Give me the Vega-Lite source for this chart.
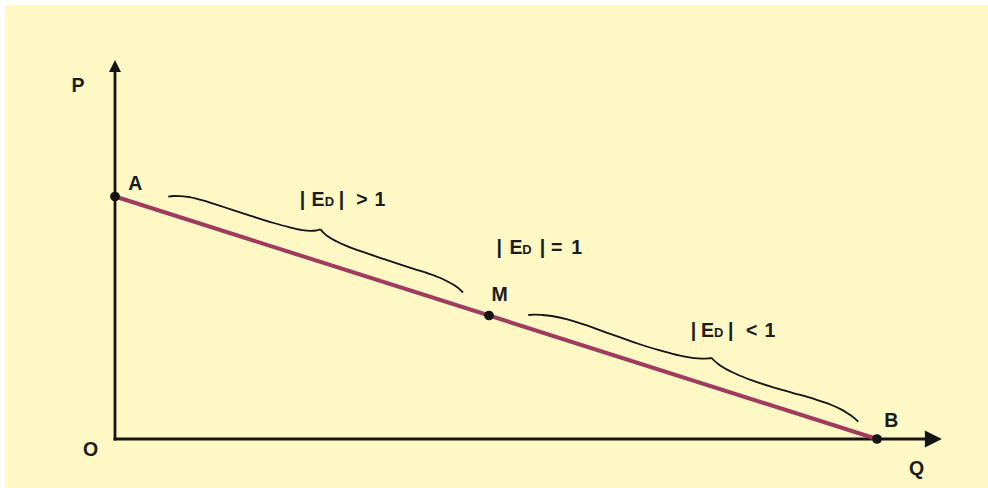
{
  "$schema": "https://vega.github.io/schema/vega-lite/v6.json",
  "width": 988,
  "height": 488,
  "autosize": {"type": "fit", "contains": "padding"},
  "padding": {"top": 5, "left": 5, "right": 0, "bottom": 0},
  "background": "#ffffff",
  "config": {
    "view": {"stroke": null, "fill": "#fdf8c4"},
    "axis": {"disable": true}
  },
  "datasets": {
    "axes": [
      {"axis": "P", "Q": 0, "P": 0},
      {"axis": "P", "Q": 0, "P": 37.1},
      {"axis": "Q", "Q": 0, "P": 0},
      {"axis": "Q", "Q": 81.5, "P": 0}
    ],
    "arrows": [
      {"axis": "P", "Q": 0, "P": 37.29},
      {"axis": "Q", "Q": 81.84, "P": 0}
    ],
    "demand": [
      {"Q": 0, "P": 24.25},
      {"Q": 76.2, "P": 0}
    ],
    "points": [
      {"name": "A", "Q": 0, "P": 24.25},
      {"name": "M", "Q": 37.4, "P": 12.35},
      {"name": "B", "Q": 76.2, "P": 0}
    ],
    "braces": [
      {"seg": "b1a", "Q": 5.33, "P": 24.23},
      {"seg": "b1a", "Q": 5.84, "P": 24.30},
      {"seg": "b1a", "Q": 6.49, "P": 24.29},
      {"seg": "b1a", "Q": 7.28, "P": 24.21},
      {"seg": "b1a", "Q": 8.49, "P": 23.94},
      {"seg": "b1a", "Q": 10.71, "P": 23.25},
      {"seg": "b1a", "Q": 13.66, "P": 22.29},
      {"seg": "b1a", "Q": 15.88, "P": 21.60},
      {"seg": "b1a", "Q": 17.38, "P": 21.19},
      {"seg": "b1a", "Q": 18.59, "P": 20.92},
      {"seg": "b1a", "Q": 19.54, "P": 20.82},
      {"seg": "b1a", "Q": 20.20, "P": 20.87},
      {"seg": "b1a", "Q": 20.56, "P": 20.96},
      {"seg": "b1b", "Q": 20.56, "P": 20.96},
      {"seg": "b1b", "Q": 20.79, "P": 20.68},
      {"seg": "b1b", "Q": 21.31, "P": 20.25},
      {"seg": "b1b", "Q": 22.13, "P": 19.77},
      {"seg": "b1b", "Q": 23.27, "P": 19.27},
      {"seg": "b1b", "Q": 24.72, "P": 18.73},
      {"seg": "b1b", "Q": 26.92, "P": 17.98},
      {"seg": "b1b", "Q": 29.87, "P": 17.02},
      {"seg": "b1b", "Q": 32.07, "P": 16.28},
      {"seg": "b1b", "Q": 33.21, "P": 15.78},
      {"seg": "b1b", "Q": 33.90, "P": 15.39},
      {"seg": "b1b", "Q": 34.43, "P": 15.01},
      {"seg": "b1b", "Q": 34.80, "P": 14.65},
      {"seg": "b2a", "Q": 41.33, "P": 12.40},
      {"seg": "b2a", "Q": 41.93, "P": 12.44},
      {"seg": "b2a", "Q": 42.71, "P": 12.40},
      {"seg": "b2a", "Q": 43.67, "P": 12.30},
      {"seg": "b2a", "Q": 45.14, "P": 11.99},
      {"seg": "b2a", "Q": 46.94, "P": 11.43},
      {"seg": "b2a", "Q": 49.59, "P": 10.49},
      {"seg": "b2a", "Q": 52.25, "P": 9.55},
      {"seg": "b2a", "Q": 54.40, "P": 8.88},
      {"seg": "b2a", "Q": 56.22, "P": 8.40},
      {"seg": "b2a", "Q": 57.71, "P": 8.11},
      {"seg": "b2a", "Q": 58.67, "P": 8.03},
      {"seg": "b2a", "Q": 59.37, "P": 8.06},
      {"seg": "b2a", "Q": 59.68, "P": 8.10},
      {"seg": "b2b", "Q": 59.68, "P": 8.10},
      {"seg": "b2b", "Q": 59.86, "P": 7.90},
      {"seg": "b2b", "Q": 60.32, "P": 7.50},
      {"seg": "b2b", "Q": 61.01, "P": 7.05},
      {"seg": "b2b", "Q": 62.16, "P": 6.48},
      {"seg": "b2b", "Q": 63.64, "P": 5.89},
      {"seg": "b2b", "Q": 65.45, "P": 5.28},
      {"seg": "b2b", "Q": 67.74, "P": 4.62},
      {"seg": "b2b", "Q": 70.04, "P": 3.96},
      {"seg": "b2b", "Q": 71.54, "P": 3.45},
      {"seg": "b2b", "Q": 72.70, "P": 2.91},
      {"seg": "b2b", "Q": 73.40, "P": 2.48},
      {"seg": "b2b", "Q": 73.94, "P": 2.09},
      {"seg": "b2b", "Q": 74.33, "P": 1.73}
    ],
    "labels": [
      {"text": "P", "Q": -4.35, "P": 34.7},
      {"text": "A", "Q": 1.33, "P": 24.9},
      {"text": "M", "Q": 37.65, "P": 13.8},
      {"text": "B", "Q": 76.93, "P": 1.2},
      {"text": "Q", "Q": 79.4, "P": -3.6},
      {"text": "O", "Q": -3.2, "P": -1.73},
      {"text": "|", "Q": 18.48, "P": 23.3},
      {"text": "E", "Q": 19.64, "P": 23.3},
      {"text": "|", "Q": 22.38, "P": 23.3},
      {"text": ">", "Q": 24.12, "P": 23.3},
      {"text": "1", "Q": 25.96, "P": 23.3},
      {"text": "|", "Q": 38.16, "P": 18.5},
      {"text": "E", "Q": 39.44, "P": 18.5},
      {"text": "|", "Q": 42.48, "P": 18.5},
      {"text": "=", "Q": 43.59, "P": 18.5},
      {"text": "1", "Q": 45.62, "P": 18.5},
      {"text": "|", "Q": 57.58, "P": 10.2},
      {"text": "E", "Q": 58.61, "P": 10.2},
      {"text": "|", "Q": 61.31, "P": 10.2},
      {"text": "<", "Q": 63.09, "P": 10.2},
      {"text": "1", "Q": 64.96, "P": 10.2}
    ],
    "subs": [
      {"text": "D", "Q": 20.97, "P": 23.3},
      {"text": "D", "Q": 40.73, "P": 18.5},
      {"text": "D", "Q": 59.9, "P": 10.2}
    ]
  },
  "encoding": {
    "x": {"field": "Q", "type": "quantitative", "axis": null, "scale": {"domain": [-11.0, 87.3], "nice": false, "zero": false}},
    "y": {"field": "P", "type": "quantitative", "axis": null, "scale": {"domain": [-4.9, 43.4], "nice": false, "zero": false}}
  },
  "layer": [
    {
      "data": {"name": "axes"},
      "mark": {"type": "line", "color": "#141414", "strokeWidth": 2.8, "strokeCap": "square"},
      "encoding": {"detail": {"field": "axis", "type": "nominal"}}
    },
    {
      "data": {"name": "arrows"},
      "transform": [{"filter": "datum.axis === 'P'"}],
      "mark": {"type": "point", "filled": true, "color": "#141414", "opacity": 1, "shape": "M0,-1L1,1L-1,1Z", "size": 144}
    },
    {
      "data": {"name": "arrows"},
      "transform": [{"filter": "datum.axis === 'Q'"}],
      "mark": {"type": "point", "filled": true, "color": "#141414", "opacity": 1, "shape": "M1,0L-1,-1L-1,1Z", "size": 289}
    },
    {
      "data": {"name": "demand"},
      "mark": {"type": "line", "color": "#9e3b5e", "strokeWidth": 4}
    },
    {
      "data": {"name": "braces"},
      "mark": {"type": "line", "color": "#141414", "strokeWidth": 1.8, "interpolate": "monotone"},
      "encoding": {"detail": {"field": "seg", "type": "nominal"}}
    },
    {
      "data": {"name": "points"},
      "mark": {"type": "circle", "color": "#141414", "opacity": 1, "size": 95}
    },
    {
      "data": {"name": "labels"},
      "mark": {"type": "text", "align": "left", "baseline": "alphabetic", "font": "Liberation Sans", "fontWeight": "bold", "fontSize": 19.5, "color": "#1c1c1c"},
      "encoding": {"text": {"field": "text", "type": "nominal"}}
    },
    {
      "data": {"name": "subs"},
      "mark": {"type": "text", "align": "left", "baseline": "alphabetic", "font": "Liberation Sans", "fontWeight": "bold", "fontSize": 13, "color": "#1c1c1c"},
      "encoding": {"text": {"field": "text", "type": "nominal"}}
    }
  ]
}
